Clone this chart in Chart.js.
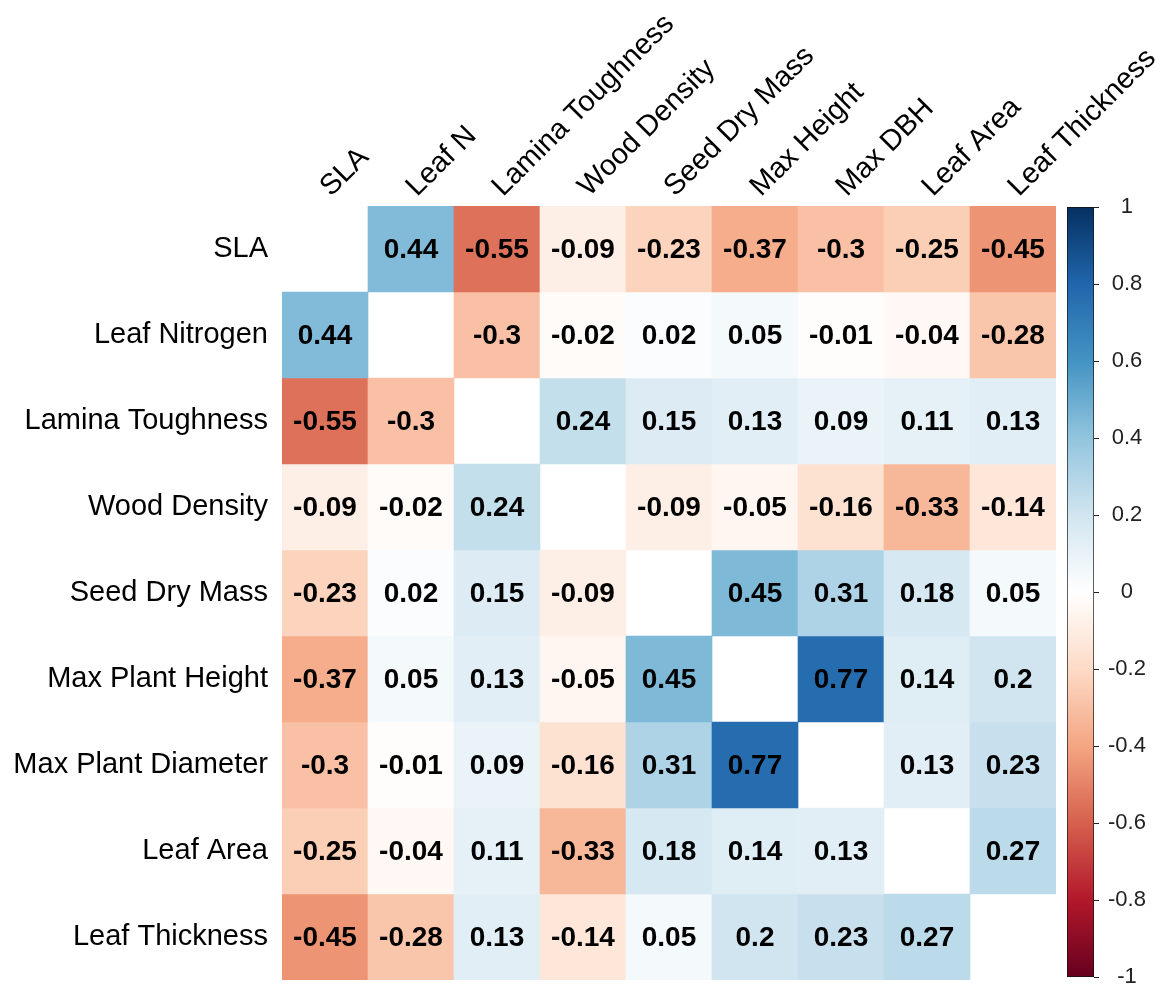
<!DOCTYPE html>
<html>
<head>
<meta charset="utf-8">
<script src="https://cdn.jsdelivr.net/npm/chart.js@4.4.1/dist/chart.umd.min.js"></script>
<style>
  body { margin: 0; background: #fff; }
  #wrap { position: relative; width: 1165px; height: 987px; }
  #wrap canvas { position: absolute; top: 0; }
</style>
</head>
<body>
<div id="wrap">
  <canvas id="Heat" width="1165" height="987" style="left:0"></canvas>
  <canvas id="Bar" width="109" height="987" style="left:1056px"></canvas>
</div>
<script>
// trait names
const rowLabels = ['SLA', 'Leaf Nitrogen', 'Lamina Toughness', 'Wood Density', 'Seed Dry Mass',
                   'Max Plant Height', 'Max Plant Diameter', 'Leaf Area', 'Leaf Thickness'];
const colLabels = ['SLA', 'Leaf N', 'Lamina Toughness', 'Wood Density', 'Seed Dry Mass',
                   'Max Height', 'Max DBH', 'Leaf Area', 'Leaf Thickness'];

// correlations, one row each (null = diagonal)
const rSLA       = [null, 0.44, -0.55, -0.09, -0.23, -0.37, -0.3, -0.25, -0.45];
const rLeafN     = [0.44, null, -0.3, -0.02, 0.02, 0.05, -0.01, -0.04, -0.28];
const rLamina    = [-0.55, -0.3, null, 0.24, 0.15, 0.13, 0.09, 0.11, 0.13];
const rWood      = [-0.09, -0.02, 0.24, null, -0.09, -0.05, -0.16, -0.33, -0.14];
const rSeed      = [-0.23, 0.02, 0.15, -0.09, null, 0.45, 0.31, 0.18, 0.05];
const rHeight    = [-0.37, 0.05, 0.13, -0.05, 0.45, null, 0.77, 0.14, 0.2];
const rDiameter  = [-0.3, -0.01, 0.09, -0.16, 0.31, 0.77, null, 0.13, 0.23];
const rArea      = [-0.25, -0.04, 0.11, -0.33, 0.18, 0.14, 0.13, null, 0.27];
const rThickness = [-0.45, -0.28, 0.13, -0.14, 0.05, 0.2, 0.23, 0.27, null];
const rows = [rSLA, rLeafN, rLamina, rWood, rSeed, rHeight, rDiameter, rArea, rThickness];

// colour bar range
const barRange = [-1, 1];

// RdBu, -1 .. 1
const palette = ['#67001F', '#B2182B', '#D6604D', '#F4A582', '#FDDBC7', '#FFFFFF',
                 '#D1E5F0', '#92C5DE', '#4393C3', '#2166AC', '#053061'];

function hexRgb(h) {
  return [parseInt(h.slice(1, 3), 16), parseInt(h.slice(3, 5), 16), parseInt(h.slice(5, 7), 16)];
}

function colorFor(v) {
  if (v === null) return 'rgba(0,0,0,0)';
  let t = (v + 1) / 2 * (palette.length - 1);
  let i = Math.min(Math.floor(t), palette.length - 2);
  let f = t - i;
  let a = hexRgb(palette[i]), b = hexRgb(palette[i + 1]);
  let c = a.map((x, k) => Math.round(x + (b[k] - x) * f));
  return 'rgb(' + c.join(',') + ')';
}

const FONT = "'Liberation Sans', Arial, sans-serif";

const cellText = {
  id: 'cellText',
  afterDatasetsDraw(chart) {
    const ctx = chart.ctx;
    ctx.save();
    ctx.font = 'bold 28px ' + FONT;
    ctx.fillStyle = '#000';
    ctx.textAlign = 'center';
    ctx.textBaseline = 'middle';
    chart.data.datasets.forEach((ds, r) => {
      const meta = chart.getDatasetMeta(r);
      meta.data.forEach((bar, c) => {
        const v = rows[r][c];
        if (v === null) return;
        ctx.fillText(String(v), bar.x, (bar.y + bar.base) / 2 + 1);
      });
    });
    ctx.restore();
  }
};

const heat = new Chart(document.getElementById('Heat'), {
  type: 'bar',
  data: {
    labels: colLabels,
    datasets: rows.map((vals, r) => ({
      label: rowLabels[r],
      data: vals.map(v => v === null ? null : [r, r + 1]),
      backgroundColor: vals.map(colorFor),
      borderWidth: 0,
      grouped: false,
      barPercentage: 1,
      categoryPercentage: 1
    }))
  },
  options: {
    responsive: false,
    animation: false,
    layout: { padding: { left: 0, right: 109, top: 0, bottom: 7 } },
    plugins: { legend: { display: false }, tooltip: { enabled: false } },
    scales: {
      x: {
        type: 'category',
        position: 'top',
        grid: { display: false, drawTicks: false },
        border: { display: false },
        ticks: {
          autoSkip: false, minRotation: 45, maxRotation: 45, padding: 2, labelOffset: 25,
          color: '#000', font: { family: FONT, size: 29 }
        },
        afterFit(scale) {
          scale.height = 206;
          scale.paddingLeft = 0; scale.paddingRight = 0;
        }
      },
      y: {
        type: 'linear',
        position: 'left',
        min: 0, max: 9, reverse: true,
        grid: { display: false, drawTicks: false },
        border: { display: false },
        afterBuildTicks(scale) {
          scale.ticks = rowLabels.map((_, i) => ({ value: i + 0.5 }));
        },
        ticks: {
          autoSkip: false, padding: 14, color: '#000',
          font: { family: FONT, size: 29 },
          callback: (v, i) => rowLabels[i]
        },
        afterFit(scale) {
          scale.width = 282;
          scale.paddingTop = 0; scale.paddingBottom = 0;
        }
      }
    }
  },
  plugins: [cellText]
});

const colorBar = new Chart(document.getElementById('Bar'), {
  type: 'bar',
  data: {
    labels: [''],
    datasets: [{
      data: [barRange],
      backgroundColor(context) {
        const area = context.chart.chartArea;
        if (!area) return null;
        const g = context.chart.ctx.createLinearGradient(0, area.bottom, 0, area.top);
        palette.forEach((c, i) => g.addColorStop(i / (palette.length - 1), c));
        return g;
      },
      borderColor: '#111',
      borderWidth: 1,
      borderSkipped: false,
      barPercentage: 1,
      categoryPercentage: 1
    }]
  },
  options: {
    responsive: false,
    animation: false,
    layout: { padding: { left: 11, right: 0, top: 207, bottom: 10 } },
    plugins: { legend: { display: false }, tooltip: { enabled: false } },
    scales: {
      x: { display: false },
      y: {
        position: 'right',
        min: barRange[0], max: barRange[1],
        grid: { drawOnChartArea: false, tickLength: 5, color: '#222', lineWidth: 1 },
        border: { display: false },
        ticks: {
          stepSize: 0.2, padding: 9, crossAlign: 'center', color: '#222',
          font: { family: FONT, size: 22 },
          callback: v => String(Math.round(v * 10) / 10)
        },
        afterFit(scale) {
          scale.width = 71;
          scale.paddingTop = 0; scale.paddingBottom = 0;
        }
      }
    }
  }
});
</script>
</body>
</html>
